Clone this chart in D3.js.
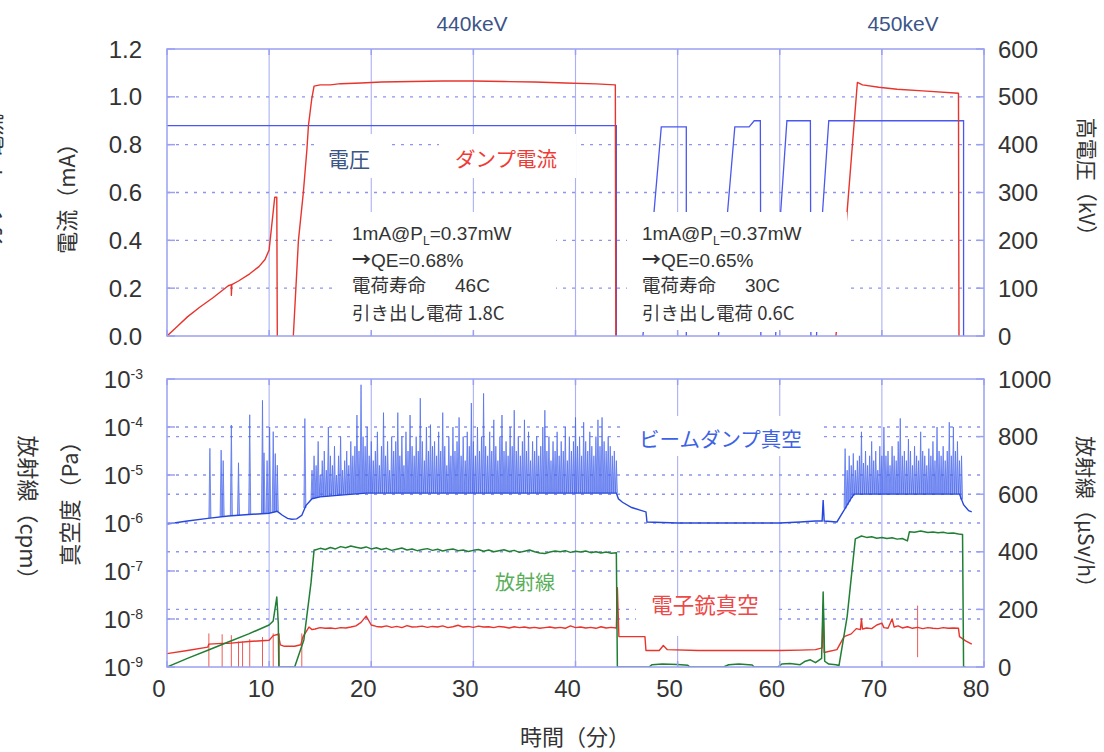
<!DOCTYPE html>
<html>
<head>
<meta charset="utf-8">
<script src="https://cdn.jsdelivr.net/npm/d3@7"></script>
<style>
  body { margin: 0; background: #fff; }
  svg text { font-family: "Liberation Sans", Arial, "Noto Sans CJK JP", sans-serif; }
  svg .jp { font-family: "Noto Sans CJK JP", "Liberation Sans", sans-serif; }
</style>
</head>
<body>
<svg id="chart" width="1104" height="752"></svg>
<script>
// ---------- axis ticks ----------
const minuteTicks   = [0, 10, 20, 30, 40, 50, 60, 70, 80];
const currentTicks  = [0, 0.2, 0.4, 0.6, 0.8, 1.0, 1.2];        // mA
const voltageTicks  = [0, 100, 200, 300, 400, 500, 600];        // kV
const pressureExps  = [-9, -8, -7, -6, -5, -4, -3];              // log10 Pa
const doseTicks     = [0, 200, 400, 600, 800, 1000];             // µSv/h

// ---------- upper panel: dump current (mA) ----------
const dumpCurrentRun1 = [[0,0],[1,0.04],[2,0.08],[3.2,0.12],[4.5,0.16],[6,0.21],[6.3,0.215],[6.3,0.17],[6.35,0.215],
  [7,0.23],[8.1,0.26],[9,0.29],[9.6,0.32],[10,0.36],[10.55,0.58],[10.75,0.58],[10.8,0]];
const dumpCurrentRun2 = [[12.37,0],[12.87,0.4],[13.35,0.6],[13.7,0.78],[13.85,0.88],[14.17,0.99],[14.4,1.045],
  [15,1.05],[16,1.05],[17,1.055],[19,1.058],[21,1.062],[24,1.064],[27,1.066],[30,1.066],[33,1.064],[36,1.062],
  [39,1.058],[42,1.054],[43.9,1.05],[43.95,0]];
const dumpCurrentRun3 = [[65.5,0],[66.3,0.36],[67.6,1.06],[68.1,1.05],[69.7,1.04],[71.5,1.032],[74,1.025],
  [77.5,1.015],[77.55,0]];

// ---------- upper panel: high voltage (kV) ----------
const hvRun1 = [[0,440],[44.0,440],[44.0,0]];
const hvPulse1 = [[46.6,0],[47.7,262],[48.4,437],[50.85,437],[50.85,0]];
const hvPulse2 = [[54.0,0],[54.9,262],[55.6,437],[57.0,437],[57.5,450],[58.1,450],[58.15,0]];
const hvPulse3 = [[59.6,0],[60.1,262],[60.7,450],[63.0,450],[63.05,0]];
const hvPulse4 = [[63.6,0],[64.2,262],[64.8,450],[78.0,450],[78.0,0]];

// ---------- lower panel: beam dump vacuum (Pa) ----------
const dumpVacBase = [[0,9.5e-7],[2,1.1e-6],[4,1.25e-6],[6,1.4e-6],[8,1.5e-6],[10,1.6e-6],[10.8,1.75e-6],
  [11.3,1.45e-6],[11.8,1.25e-6],[12.2,1.2e-6],[12.7,1.22e-6],[13.2,1.45e-6],[13.6,2.3e-6],[14.2,3.2e-6],
  [15,3.5e-6],[17,3.8e-6],[19.5,4.2e-6],[44,4.2e-6],[44.2,3.2e-6],[44.6,2.7e-6],[45.5,2.1e-6],[46.9,1.7e-6],
  [47.0,1.05e-6],[50,1.0e-6],[55,1.0e-6],[60,1.0e-6],[62,1.05e-6],[63.5,1.1e-6],[64.15,1.1e-6],[64.25,3.0e-6],
  [64.35,1.1e-6],[65.6,1.05e-6],[66.3,1.85e-6],[67.0,3.3e-6],[67.3,4.0e-6],[77.6,4.0e-6],[78.0,2.4e-6],
  [78.5,1.8e-6],[78.8,1.7e-6]];
// isolated pressure bursts before the beam run: [minute, Pa]
const dumpSpikesEarly = [[4.2,3.6e-5],[5.3,3.3e-5],[5.5,2e-5],[6.3,1.1e-4],[7.0,1.8e-5],[8.1,1.8e-4],
  [9.35,3.6e-4],[9.5,2.9e-5],[9.8,2e-5],[10.05,1e-4],[10.4,8e-5],[10.6,2.8e-5],[10.8,1.6e-5],[13.5,1.5e-4]];
// bursts during the 440 keV run, log10(Pa), every 0.2 min from 14.2 min
const dumpSpikesRun1Start = 14.2;
const dumpSpikesRun1 = [
  -4.9,-4.6,-4.8,-4.3,-5.0,-4.7,-4.5,-4.9,-4.0,-4.6,
  -4.8,-4.4,-5.0,-4.6,-4.2,-4.9,-4.7,-4.5,-4.8,-4.3,
  -4.6,-4.4,-3.75,-4.5,-3.12,-4.2,-4.4,-4.0,-4.6,-4.3,
  -4.7,-4.5,-4.1,-4.8,-4.4,-3.7,-4.6,-4.3,-4.9,-4.2,
  -4.5,-4.3,-3.7,-4.6,-4.2,-4.8,-4.1,-4.5,-3.75,-4.4,
  -4.6,-4.2,-4.5,-3.4,-4.3,-4.7,-4.0,-4.5,-3.95,-4.4,
  -4.3,-4.6,-4.1,-4.5,-3.7,-4.4,-4.8,-4.2,-4.6,-4.0,
  -4.5,-4.3,-3.8,-4.6,-4.2,-4.7,-4.1,-4.4,-3.5,-4.3,
  -4.6,-4.0,-4.5,-4.2,-3.3,-4.4,-4.6,-4.1,-4.5,-3.85,
  -4.4,-4.7,-4.2,-3.75,-4.5,-4.3,-4.6,-4.0,-4.4,-3.65,
  -4.5,-4.2,-4.6,-4.3,-3.85,-4.5,-4.1,-4.7,-4.3,-4.5,
  -4.2,-4.6,-4.4,-4.0,-3.65,-4.5,-4.2,-4.7,-4.3,-4.5,
  -4.1,-4.6,-4.3,-4.5,-4.0,-4.7,-4.2,-4.5,-4.3,-3.8,
  -4.4,-4.2,-4.6,-3.9,-4.3,-4.5,-4.1,-4.4,-4.6,-4.2,
  -3.85,-4.4,-3.8,-4.3,-4.5,-4.2,-4.4,-4.6,-4.5,-4.7];
// bursts during the 450 keV run, log10(Pa), every 0.2 min from 66.4 min
const dumpSpikesRun2Start = 66.4;
const dumpSpikesRun2 = [
  -4.45,-4.9,-4.6,-4.8,-4.55,-4.9,-4.7,-4.6,-4.1,-4.75,
  -4.5,-4.8,-4.6,-4.3,-4.7,-4.5,-4.9,-4.4,-4.6,-4.0,
  -4.6,-4.5,-4.8,-4.4,-4.6,-4.7,-4.3,-3.82,-4.6,-4.5,
  -4.7,-4.25,-4.5,-4.8,-4.4,-4.6,-4.7,-4.1,-4.5,-4.6,
  -4.8,-4.45,-4.6,-4.3,-4.7,-4.0,-4.5,-4.6,-4.4,-4.7,
  -4.5,-3.9,-4.6,-4.0,-4.5,-4.3,-4.7,-4.6];

// ---------- lower panel: electron gun vacuum (nPa) ----------
const gunVacEarly = [[0,1.9],[2,2.2],[4,2.6],[4.1,3.0],[5.4,3.1],[6,3.1],[8,3.4],[10,3.6],[10.4,4.5],[10.9,4.8],
  [11.1,2.9],[11.5,2.7],[12.5,2.7],[13.1,2.9],[13.3,4.2],[13.9,6.8],[14.2,6.0]];
const gunVacRun1Start = 14.5;   // every 0.5 min
const gunVacRun1 = [
  6.2,6.6,6.4,6.5,6.3,6.6,6.5,6.8,7.2,8.5,
  11.5,7.5,7.0,6.8,7.2,6.7,7.0,6.6,7.3,6.8,
  6.9,7.1,6.7,7.0,6.8,7.2,6.6,6.9,7.4,6.8,
  7.0,6.7,7.1,6.8,6.9,6.6,7.0,6.8,6.5,6.9,
  6.6,6.8,6.5,6.7,6.4,6.6,6.8,6.5,6.7,6.4,
  7.2,6.6,6.8,6.5,6.7,6.4,6.9,6.5,6.7,6.5];
const gunVacLate = [[44.0,6.5],[44.1,45],[44.25,4.3],[46.8,4.3],[46.9,2.2],[48.2,2.2],[48.6,2.8],[49.0,2.3],
  [52,2.2],[56,2.2],[60,2.2],[62,2.25],[63.5,2.3],[64.15,2.5],[64.25,19],[64.35,2.0],[65.6,2.3],[66.3,4.3],
  [67.0,4.9],[67.5,6.3],[67.9,6.0],[68.0,10],[68.1,6.2],[68.5,6.5],[69,6.3],[69.5,7.5],[70,8.2],[70.2,6.6],
  [70.6,6.4],[71,10],[71.2,6.8],[71.6,7.2],[72,6.5],[72.5,6.9],[73,6.4],[73.5,6.7],[74,6.3],[74.5,6.6],
  [75,6.4],[75.5,6.3],[76,6.6],[76.5,6.4],[77,6.5],[77.5,6.4],[77.6,4.3],[78.2,3.5],[78.8,3.0]];
// short excursions of the gun gauge: [minute, low nPa, high nPa]
const gunVacBlips = [[4.1,1,5],[5.4,1,4.8],[6.3,1,4.6],[7.0,1,3.4],[7.4,1,3.4],[8.1,1,3.8],[9.35,1,4.2],
  [10.4,1,5],[11.0,1,5],[13.2,1,5],[73.5,1.6,19]];

// ---------- lower panel: radiation (µSv/h) ----------
const doseEarly = [[0,0],[2,30],[4,58],[6,87],[8,115],[10,146],[10.4,160],[10.75,243],[10.9,150],[10.95,0],
  [12.5,0],[13.4,94],[14.1,292],[14.4,406]];
const doseRun1Start = 14.5;     // every 0.5 min
const doseRun1 = [
  406,412,408,415,410,418,414,420,416,412,
  417,410,414,408,412,405,409,413,406,410,
  404,408,411,405,409,403,407,410,404,406,
  401,405,408,402,406,400,404,407,401,405,
  398,402,406,400,396,394,399,403,400,404,
  398,402,399,403,397,400,396,399,395,397];
const doseLate = [[44.0,397],[44.1,0],[47.2,0],[47.5,8],[48.5,10],[50,9],[51,6],[51.2,0],[54.5,0],[55,8],[56,10],
  [57.3,7],[57.5,0],[59.8,0],[60.2,10],[61,12],[62,8],[62.5,20],[63,25],[63.5,15],[64.1,30],[64.25,260],
  [64.4,20],[64.8,10],[65.5,8],[65.8,5],[66.6,175],[67.4,445],[68,455],[68.5,450],[69,452],[69.5,447],
  [70,450],[70.5,446],[71,449],[71.5,444],[72,446],[72.5,438],[72.7,470],[73.2,468],[73.8,472],[74.5,467],
  [75,469],[75.5,466],[76,468],[76.5,464],[77,465],[77.5,462],[77.9,460],[78.0,0],[78.2,0]];

// ---------- layout & scales ----------
const svg = d3.select('#chart');
const X0 = 167, X1 = 984;
const T0 = 49, T1 = 336, B0 = 379, B1 = 667;
const x     = d3.scaleLinear().domain([0, 80]).range([X0, X1]);
const yCur  = d3.scaleLinear().domain([0, 1.2]).range([T1, T0]);
const yKV   = d3.scaleLinear().domain([0, 600]).range([T1, T0]);
const yPa   = d3.scaleLog().domain([1e-9, 1e-3]).range([B1, B0]);
const yDose = d3.scaleLinear().domain([0, 1000]).range([B1, B0]);

const FRAME = '#9aa1f2', HGRID = '#8c94ee', VGRID = '#abb0f6', INK = '#333';
const C_RED = '#e8342c', C_BLUE = '#4a58ee', C_DUMP = '#2747dc', C_GREEN = '#217f35';

const defs = svg.append('defs');
defs.append('clipPath').attr('id', 'clipTop').append('rect')
  .attr('x', X0).attr('y', T0).attr('width', X1 - X0).attr('height', T1 - T0);
defs.append('clipPath').attr('id', 'clipBot').append('rect')
  .attr('x', X0).attr('y', B0).attr('width', X1 - X0).attr('height', B1 - B0);

// ---------- grids ----------
function verticalGrid(y0, y1) {
  svg.append('g').selectAll('line').data(minuteTicks.slice(1, -1)).join('line')
    .attr('x1', d => x(d)).attr('x2', d => x(d)).attr('y1', y0).attr('y2', y1)
    .attr('stroke', VGRID).attr('stroke-width', 1.1);
}
function dottedGrid(ys) {
  svg.append('g').selectAll('line').data(ys).join('line')
    .attr('x1', X0).attr('x2', X1).attr('y1', d => d).attr('y2', d => d)
    .attr('stroke', HGRID).attr('stroke-width', 1.4).attr('stroke-dasharray', '3,6');
}
verticalGrid(T0, T1);
dottedGrid(currentTicks.slice(1, -1).map(yCur));
verticalGrid(B0, B1);
dottedGrid(pressureExps.slice(1, -1).map(e => yPa(Math.pow(10, e))));
dottedGrid(doseTicks.slice(1, -1).map(yDose));

// ---------- upper panel data ----------
const gTop = svg.append('g').attr('clip-path', 'url(#clipTop)');
const lineCur = d3.line().x(d => x(d[0])).y(d => yCur(d[1]));
const lineKV  = d3.line().x(d => x(d[0])).y(d => yKV(d[1]));
[hvRun1, hvPulse1, hvPulse2, hvPulse3, hvPulse4].forEach(s =>
  gTop.append('path').attr('d', lineKV(s)).attr('fill', 'none')
    .attr('stroke', C_BLUE).attr('stroke-width', 1.3));
[dumpCurrentRun1, dumpCurrentRun2, dumpCurrentRun3].forEach(s =>
  gTop.append('path').attr('d', lineCur(s)).attr('fill', 'none')
    .attr('stroke', C_RED).attr('stroke-width', 1.4).attr('stroke-linejoin', 'round'));

// ---------- lower panel data ----------
const gBot = svg.append('g').attr('clip-path', 'url(#clipBot)');
const byTime = d3.bisector(d => d[0]).right;
function dumpBaseAt(t) {
  const i = Math.max(1, Math.min(dumpVacBase.length - 1, byTime(dumpVacBase, t)));
  const a = dumpVacBase[i - 1], b = dumpVacBase[i];
  const f = Math.max(0, Math.min(1, (t - a[0]) / (b[0] - a[0])));
  return Math.pow(10, Math.log10(a[1]) + f * (Math.log10(b[1]) - Math.log10(a[1])));
}
const dumpSpikes = dumpSpikesEarly.concat(
  dumpSpikesRun1.map((e, i) => [dumpSpikesRun1Start + i * 0.2, Math.pow(10, e)]),
  dumpSpikesRun2.map((e, i) => [dumpSpikesRun2Start + i * 0.2, Math.pow(10, e)]));
const spikeLine = d3.line();
gBot.append('g').selectAll('path').data(dumpSpikes).join('path')
  .attr('d', d => {
    const b = yPa(dumpBaseAt(d[0]));
    return spikeLine([[x(d[0] - 0.1), b], [x(d[0]), yPa(d[1])], [x(d[0] + 0.1), b]]);
  })
  .attr('fill', 'rgba(80,108,238,0.5)').attr('stroke', '#4b69ec').attr('stroke-width', 0.7);
const linePa = d3.line().x(d => x(d[0])).y(d => yPa(d[1]));
gBot.append('path').attr('d', linePa(dumpVacBase)).attr('fill', 'none')
  .attr('stroke', C_DUMP).attr('stroke-width', 1.4);

// electron gun vacuum
const gunVac = gunVacEarly
  .concat(gunVacRun1.map((v, i) => [gunVacRun1Start + i * 0.5, v]), gunVacLate)
  .map(d => [d[0], d[1] * 1e-9]);
gBot.append('g').selectAll('line').data(gunVacBlips).join('line')
  .attr('x1', d => x(d[0])).attr('x2', d => x(d[0]))
  .attr('y1', d => yPa(d[1] * 1e-9)).attr('y2', d => yPa(d[2] * 1e-9))
  .attr('stroke', '#ee5a52').attr('stroke-width', 1);
gBot.append('path').attr('d', linePa(gunVac)).attr('fill', 'none')
  .attr('stroke', C_RED).attr('stroke-width', 1.4).attr('stroke-linejoin', 'round');

// radiation
const dose = doseEarly.concat(doseRun1.map((v, i) => [doseRun1Start + i * 0.5, v]), doseLate);
const lineDose = d3.line().x(d => x(d[0])).y(d => yDose(d[1]));
gBot.append('path').attr('d', lineDose(dose)).attr('fill', 'none')
  .attr('stroke', C_GREEN).attr('stroke-width', 1.5).attr('stroke-linejoin', 'round');

// ---------- label backgrounds ----------
const labelBoxes = [[314,134,73,44],[439,134,137,44],[336,212,220,120],[627,212,220,120],
  [626,416,192,40],[476,560,96,40],[636,596,140,40]];
svg.append('g').selectAll('rect').data(labelBoxes).join('rect')
  .attr('x', d => d[0]).attr('y', d => d[1]).attr('width', d => d[2]).attr('height', d => d[3])
  .attr('fill', '#fff');

// ---------- frames and inward ticks ----------
function frame(y0, y1, leftYs, rightYs) {
  const g = svg.append('g').attr('stroke', FRAME).attr('stroke-width', 1.5);
  g.append('rect').attr('x', X0).attr('y', y0).attr('width', X1 - X0).attr('height', y1 - y0).attr('fill', 'none');
  leftYs.forEach(y => g.append('line').attr('x1', X0).attr('x2', X0 + 8).attr('y1', y).attr('y2', y));
  rightYs.forEach(y => g.append('line').attr('x1', X1 - 8).attr('x2', X1).attr('y1', y).attr('y2', y));
  minuteTicks.forEach(t => {
    g.append('line').attr('x1', x(t)).attr('x2', x(t)).attr('y1', y1).attr('y2', y1 - 6);
    g.append('line').attr('x1', x(t)).attr('x2', x(t)).attr('y1', y0).attr('y2', y0 + 6);
  });
}
frame(T0, T1, currentTicks.map(yCur), voltageTicks.map(yKV));
frame(B0, B1, pressureExps.map(e => yPa(Math.pow(10, e))), doseTicks.map(yDose));

// ---------- tick labels ----------
const tickFont = 24;
svg.append('g').selectAll('text').data(currentTicks).join('text')
  .attr('x', 142).attr('y', d => yCur(d)).attr('dy', '0.36em').attr('text-anchor', 'end')
  .attr('font-size', tickFont).attr('fill', INK).text(d => d.toFixed(1));
svg.append('g').selectAll('text').data(voltageTicks).join('text')
  .attr('x', 998).attr('y', d => yKV(d)).attr('dy', '0.36em')
  .attr('font-size', tickFont).attr('fill', INK).text(d => d);
const expLabels = svg.append('g').selectAll('text').data(pressureExps).join('text')
  .attr('x', 143).attr('y', d => yPa(Math.pow(10, d))).attr('dy', '0.36em').attr('text-anchor', 'end')
  .attr('font-size', tickFont).attr('fill', INK);
expLabels.append('tspan').text('10');
expLabels.append('tspan').attr('dy', -9).attr('font-size', 14).text(d => String(d));
svg.append('g').selectAll('text').data(doseTicks).join('text')
  .attr('x', 998).attr('y', d => yDose(d)).attr('dy', '0.36em')
  .attr('font-size', tickFont).attr('fill', INK).text(d => d);
svg.append('g').selectAll('text').data(minuteTicks).join('text')
  .attr('x', d => x(d) - 8).attr('y', 697).attr('text-anchor', 'middle')
  .attr('font-size', tickFont).attr('fill', INK).text(d => d);

// ---------- axis titles ----------
function vtext(txt, cx, cy, angle, size, fill) {
  svg.append('text').attr('class', 'jp')
    .attr('transform', `translate(${cx},${cy}) rotate(${angle})`)
    .attr('text-anchor', 'middle').attr('dy', '0.36em')
    .attr('font-size', size).attr('fill', fill || INK).text(txt);
}
vtext('カソード電流', -7, 180, -90, 22);
vtext('電流（mA）', 67, 193, -90, 22);
vtext('真空度（Pa）', 70, 498, -90, 22);
vtext('放射線（cpm）', 28, 513, 90, 22);
vtext('高電圧（kV）', 1087, 182, 90, 21);
vtext('放射線（μSv/h）', 1086, 517, 90, 21);
svg.append('text').attr('class', 'jp').attr('x', 575).attr('y', 745).attr('text-anchor', 'middle')
  .attr('font-size', 22).attr('fill', INK).text('時間（分）');

// ---------- annotations ----------
function label(txt, xx, yy, size, fill, anchor) {
  return svg.append('text').attr('class', 'jp').attr('x', xx).attr('y', yy).attr('dy', '0.36em')
    .attr('text-anchor', anchor || 'start').attr('font-size', size).attr('fill', fill).text(txt);
}
svg.append('text').attr('x', 472).attr('y', 23).attr('dy', '0.36em').attr('text-anchor', 'middle')
  .attr('font-size', 21).attr('fill', '#3d5488').text('440keV');
svg.append('text').attr('x', 903).attr('y', 23).attr('dy', '0.36em').attr('text-anchor', 'middle')
  .attr('font-size', 21).attr('fill', '#3d5488').text('450keV');
label('電圧', 349, 159, 21, '#3b5584', 'middle');
label('ダンプ電流', 506, 160, 20.5, '#ef3b36', 'middle');
label('ビームダンプ真空', 639, 440, 20.5, '#3d62e6');
label('放射線', 525, 583, 20, '#5aae5a', 'middle');
label('電子銃真空', 705, 605, 21.5, '#ee4848', 'middle');

const runNotes = [
  { x: 352, qe: 'QE=0.68%', life: '46C', extracted: '1.8C' },
  { x: 642, qe: 'QE=0.65%', life: '30C', extracted: '0.6C' }
];
runNotes.forEach(n => {
  const t1 = svg.append('text').attr('x', n.x).attr('y', 233).attr('dy', '0.36em')
    .attr('font-size', 19).attr('fill', INK);
  t1.append('tspan').text('1mA@P');
  t1.append('tspan').attr('font-size', 12).attr('dy', 5).text('L');
  t1.append('tspan').attr('dy', -5).text('=0.37mW');
  const t2 = svg.append('text').attr('x', n.x).attr('y', 260).attr('dy', '0.36em')
    .attr('font-size', 19).attr('fill', INK);
  t2.append('tspan').attr('class', 'jp').attr('font-weight', 700).text('→');
  t2.append('tspan').text(n.qe);
  label('電荷寿命', n.x, 285.5, 18.5, INK);
  svg.append('text').attr('x', n.x + 103).attr('y', 285.5).attr('dy', '0.36em')
    .attr('font-size', 19).attr('fill', INK).text(n.life);
  label('引き出し電荷 ' + n.extracted, n.x, 313.5, 18.5, INK);
});
</script>
</body>
</html>
